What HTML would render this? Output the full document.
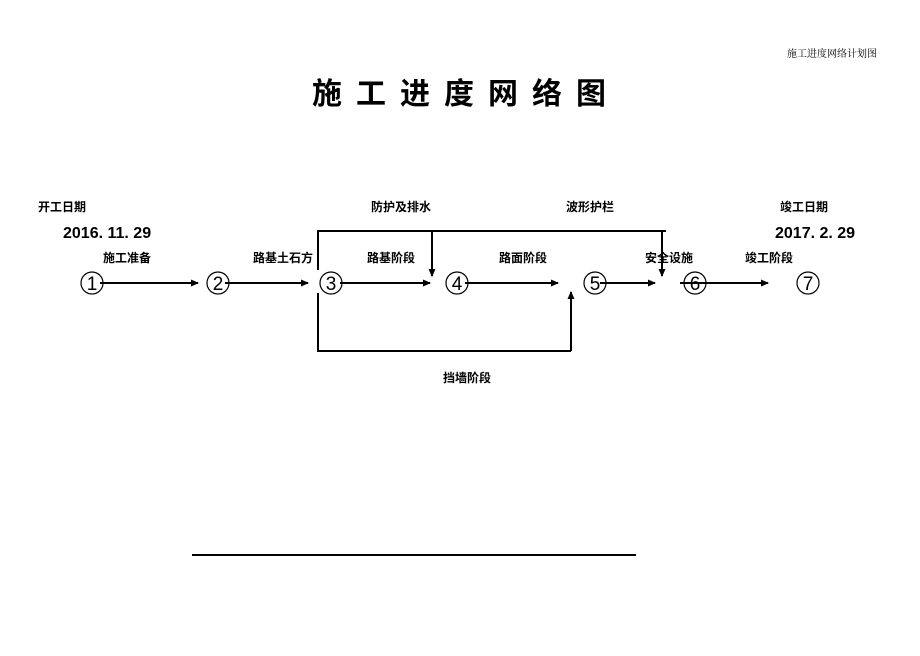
<!DOCTYPE html>
<html><head><meta charset="utf-8"><style>
body{margin:0;background:#fff;}
svg text{font-family:"Liberation Sans","Noto Sans CJK SC",sans-serif;fill:#000;}
</style></head><body>
<svg width="920" height="651" viewBox="0 0 920 651" xmlns="http://www.w3.org/2000/svg">
<defs><marker id="a" markerWidth="8" markerHeight="8" refX="7" refY="4" orient="auto" markerUnits="userSpaceOnUse"><path d="M0,0.5 L8,4 L0,7.5 Z" fill="#000"/></marker></defs>
<text x="787" y="57" font-size="10" style="font-family:'Noto Serif CJK SC',serif">施工进度网络计划图</text>
<text x="466" y="104" font-size="30" font-weight="bold" text-anchor="middle" letter-spacing="14" style="font-family:'Noto Sans CJK SC',sans-serif">施工进度网络图</text>
<g font-size="12" font-weight="bold">
<text x="38" y="211">开工日期</text>
<text x="371" y="211">防护及排水</text>
<text x="566" y="211">波形护栏</text>
<text x="780" y="211">竣工日期</text>
<text x="103" y="262">施工准备</text>
<text x="253" y="262">路基土石方</text>
<text x="367" y="262">路基阶段</text>
<text x="499" y="262">路面阶段</text>
<text x="645" y="262">安全设施</text>
<text x="745" y="262">竣工阶段</text>
<text x="443" y="382">挡墙阶段</text>
</g>
<text x="63" y="238" font-size="16" font-weight="bold">2016. 11. 29</text>
<text x="775" y="238" font-size="16" font-weight="bold">2017. 2. 29</text>
<g fill="none" stroke="#000" stroke-width="1.2">
<circle cx="92" cy="283" r="11"/><circle cx="218" cy="283" r="11"/><circle cx="331" cy="283" r="11"/><circle cx="457" cy="283" r="11"/><circle cx="595" cy="283" r="11"/><circle cx="695" cy="283" r="11"/><circle cx="808" cy="283" r="11"/>
</g>
<g font-size="19" text-anchor="middle">
<text x="92" y="290">1</text><text x="218" y="290">2</text><text x="331" y="290">3</text><text x="457" y="290">4</text><text x="595" y="290">5</text><text x="695" y="290">6</text><text x="808" y="290">7</text>
</g>
<g stroke="#000" stroke-width="2" fill="none">
<line x1="100" y1="283" x2="198" y2="283" marker-end="url(#a)"/>
<line x1="225" y1="283" x2="308" y2="283" marker-end="url(#a)"/>
<line x1="340" y1="283" x2="430" y2="283" marker-end="url(#a)"/>
<line x1="465" y1="283" x2="558" y2="283" marker-end="url(#a)"/>
<line x1="600" y1="283" x2="655" y2="283" marker-end="url(#a)"/>
<line x1="680" y1="283" x2="768" y2="283" marker-end="url(#a)"/>
<polyline points="318,270 318,231 666,231"/>
<line x1="432" y1="231" x2="432" y2="276" marker-end="url(#a)"/>
<line x1="662" y1="231" x2="662" y2="276" marker-end="url(#a)"/>
<polyline points="318,293 318,351 571,351"/>
<line x1="571" y1="351" x2="571" y2="292" marker-end="url(#a)"/>
<line x1="192" y1="555" x2="636" y2="555"/>
</g>
</svg>
</body></html>
